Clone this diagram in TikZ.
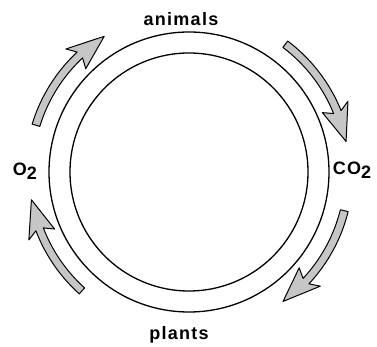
\documentclass[tikz,border=0pt]{standalone}
\usepackage{fontspec}
\newfontfamily\cyclefont[LetterSpace=7]{Liberation Sans}
\usetikzlibrary{positioning}

\begin{document}
\begin{tikzpicture}[x=1pt,y=1pt,
  ring/.style={circle,draw=black,line width=1.3pt,inner sep=0pt},
  cyclelabel/.style={font=\cyclefont\bfseries\fontsize{18}{20}\selectfont,inner sep=0pt},
  flowarrow/.style={draw=black,fill=gray!45,line width=1pt,line join=round}]
\useasboundingbox (-189,-175) rectangle (188,172);
% two concentric rings
\node[ring,minimum size=280pt] (outer) at (0,0) {};
\node[ring,minimum size=238pt] (inner) at (0,0) {};
% labels round the rings
\node[cyclelabel] (animals) at (-8,153) {animals};
\node[cyclelabel] (plants) at (-10,-163) {plants};
\node[cyclelabel] (oxygen) at (-164,1) {O\raisebox{-4pt}{2}};
\node[cyclelabel] (carbon) at (163,2) {CO\raisebox{-4pt}{2}};
% four arrows, all clockwise: tail angle / tip angle
\foreach \s/\e in {163/122, 53/11, -14/-54, 228/190}{
  \pgfmathsetmacro{\h}{\e+11}
  \pgfmathsetmacro{\b}{\e+13}
  \path[flowarrow] (\s:164) arc[start angle=\s,end angle=\h,radius=164pt]
    -- (\b:174) -- (\e:160) -- (\b:146) -- (\h:156)
    arc[start angle=\h,end angle=\s,radius=156pt] -- cycle;
}
\end{tikzpicture}
\end{document}
